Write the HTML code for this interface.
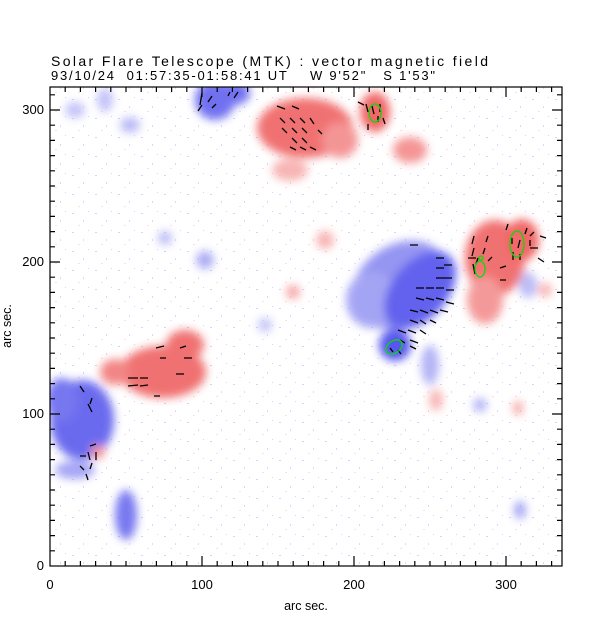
<!DOCTYPE html>
<html><head><meta charset="utf-8"><style>
html,body{margin:0;padding:0;background:#fff;}
svg{display:block;font-family:"Liberation Sans",sans-serif;}
text{white-space:pre;}
</style></head><body>
<svg width="612" height="617" viewBox="0 0 612 617" xmlns="http://www.w3.org/2000/svg">
<defs>
<filter id="b" x="-50%" y="-50%" width="200%" height="200%"><feGaussianBlur stdDeviation="4.5"/></filter>
<pattern id="noise" width="23" height="19" patternUnits="userSpaceOnUse">
<rect x="3" y="4" width="2" height="1" fill="#c8c8ff"/><rect x="14" y="11" width="1" height="2" fill="#d0d0ff"/><rect x="9" y="16" width="2" height="1" fill="#ffd6d6"/><rect x="19" y="2" width="1" height="1" fill="#c8c8ff"/>
</pattern>
<clipPath id="c"><rect x="50" y="87" width="512" height="479"/></clipPath>
</defs>
<rect width="612" height="617" fill="#fff"/>
<rect x="50" y="87" width="512" height="479" fill="url(#noise)" opacity="0.8"/>
<g clip-path="url(#c)">
<g filter="url(#b)" opacity="0.95">
<!-- blue -->
<ellipse cx="215" cy="100" rx="20" ry="20" fill="#6a6af0"/>
<ellipse cx="235" cy="93" rx="15" ry="12" fill="#6a6af0"/>
<ellipse cx="130" cy="125" rx="10" ry="8" fill="#b8b8f6"/>
<ellipse cx="75" cy="110" rx="10" ry="8" fill="#c0c0f8"/>
<ellipse cx="105" cy="100" rx="8" ry="12" fill="#c0c0f8"/>
<ellipse cx="205" cy="260" rx="9" ry="9" fill="#a8a8f4"/>
<ellipse cx="165" cy="238" rx="7" ry="7" fill="#b8b8f6"/>
<ellipse cx="400" cy="285" rx="52" ry="40" fill="#9090f2" transform="rotate(-35 400 285)"/>
<ellipse cx="372" cy="300" rx="26" ry="28" fill="#a0a0f4"/>
<ellipse cx="420" cy="290" rx="28" ry="45" fill="#5a5aee" transform="rotate(40 420 290)"/>
<ellipse cx="395" cy="345" rx="16" ry="16" fill="#5050ec"/>
<ellipse cx="430" cy="365" rx="9" ry="20" fill="#b0b0f6"/>
<ellipse cx="82" cy="420" rx="32" ry="40" fill="#6464ee"/>
<ellipse cx="62" cy="400" rx="16" ry="22" fill="#7070f0"/>
<ellipse cx="75" cy="470" rx="20" ry="9" fill="#a0a0f4"/>
<ellipse cx="126" cy="515" rx="11" ry="25" fill="#7272f0"/>
<ellipse cx="520" cy="510" rx="6" ry="9" fill="#a0a0f4"/>
<ellipse cx="480" cy="405" rx="7" ry="7" fill="#b0b0f6"/>
<ellipse cx="528" cy="285" rx="9" ry="13" fill="#b8b8f6"/>
<ellipse cx="265" cy="325" rx="7" ry="7" fill="#c0c0f8"/>
<!-- red -->
<ellipse cx="305" cy="128" rx="48" ry="30" fill="#f06a6a"/>
<ellipse cx="340" cy="140" rx="18" ry="18" fill="#f49090"/>
<ellipse cx="375" cy="112" rx="15" ry="20" fill="#f06060"/>
<ellipse cx="410" cy="150" rx="17" ry="13" fill="#f49090"/>
<ellipse cx="290" cy="170" rx="18" ry="11" fill="#f8b0b0"/>
<ellipse cx="495" cy="258" rx="30" ry="38" fill="#f06a6a"/>
<ellipse cx="485" cy="300" rx="18" ry="24" fill="#f49494"/>
<ellipse cx="522" cy="240" rx="17" ry="21" fill="#f06060"/>
<ellipse cx="163" cy="372" rx="43" ry="26" fill="#f06a6a"/>
<ellipse cx="185" cy="345" rx="19" ry="15" fill="#f06a6a"/>
<ellipse cx="115" cy="372" rx="15" ry="13" fill="#f28080"/>
<ellipse cx="98" cy="452" rx="7" ry="7" fill="#f49090"/>
<ellipse cx="325" cy="240" rx="9" ry="9" fill="#f8b0b0"/>
<ellipse cx="293" cy="292" rx="7" ry="7" fill="#f6a0a0"/>
<ellipse cx="545" cy="290" rx="7" ry="7" fill="#f8b0b0"/>
<ellipse cx="518" cy="408" rx="5" ry="7" fill="#f6a0a0"/>
<ellipse cx="436" cy="400" rx="7" ry="11" fill="#f8b4b4"/>
</g>
</g>
<!-- vectors -->
<g stroke="#000" stroke-width="1.3" fill="none">
<path d="M277 106l8 3M292 106l7 3M280 118l5 5M290 118l5 5M300 118l5 5M310 118l4 6M282 128l5 5M292 128l5 5M302 128l5 5M318 130l4 4M292 138l5 5M302 138l5 5M290 147l6 3M300 147l6 3M310 147l6 3"/>
<path d="M202 93l-2 12M212 96l-4 6M202 105l-4 6M216 104l-4 4M230 92l-2 4M238 92l-4 6"/>
<path d="M358 102l6 3M366 104l2 8M372 106l2 8M380 104l0 8M378 116l0 6M383 118l2 6M368 124l0 6"/>
<path d="M410 245l8 0M436 258l8 0M436 268l8 0M444 265l8 0M436 278l8 0M444 278l8 0M416 288l8 0M426 288l8 0M436 288l8 0M446 290l8 0M416 298l8 2M426 298l8 2M436 298l8 2M446 302l8 2M410 310l8 2M420 310l8 3M430 310l8 3M440 310l8 2M410 320l8 3M420 320l6 4M430 320l6 3M398 330l8 3M408 330l8 3M420 330l6 4M400 340l5 3M410 340l8 3M390 348l3 4M398 350l3 4M410 346l6 3"/>
<path d="M474 236l-2 8M488 236l-2 6M474 248l-2 8M485 248l-2 6M468 258l8 0M478 258l-2 6M492 257l-4 4M473 264l2 10M500 268l6 -2M500 280l6 0M527 228l-2 6M534 232l-4 4M512 238l0 6M520 240l-2 8M530 240l0 6M513 252l0 8M520 254l0 6M530 248l8 0M540 236l6 2M538 258l6 4M508 224l-2 6"/>
<path d="M156 348l8 -2M160 358l6 0M128 378l10 0M140 378l8 0M128 386l10 -1M140 386l8 -1M154 396l6 0M180 348l6 -2M184 358l8 0M176 374l8 0"/>
<path d="M80 386l4 6M92 398l-2 6M88 404l4 8M90 446l6 -2M88 452l2 8M96 452l0 8M80 456l6 0M80 466l4 4M92 463l-2 6M86 474l2 6"/>
</g>
<g stroke="#00e000" stroke-width="1.2" fill="none">
<ellipse cx="375" cy="113" rx="6" ry="9"/>
<ellipse cx="394" cy="347" rx="9" ry="6" transform="rotate(-35 394 347)"/>
<ellipse cx="480" cy="269" rx="5" ry="8"/>
<ellipse cx="481" cy="258" rx="2" ry="2"/>
<ellipse cx="517" cy="244" rx="7" ry="13"/>
</g>
<!-- axes -->
<g stroke="#000" stroke-width="1.2" fill="none">
<rect x="50" y="87" width="512" height="479"/>
<path id="xt" d="M65.2 566v-5M80.4 566v-5M95.6 566v-5M110.8 566v-5M126 566v-5M141.2 566v-5M156.4 566v-5M171.6 566v-5M186.8 566v-5M202 566v-10M217.2 566v-5M232.4 566v-5M247.6 566v-5M262.8 566v-5M278 566v-5M293.2 566v-5M308.4 566v-5M323.6 566v-5M338.8 566v-5M354 566v-10M369.2 566v-5M384.4 566v-5M399.6 566v-5M414.8 566v-5M430 566v-5M445.2 566v-5M460.4 566v-5M475.6 566v-5M490.8 566v-5M506 566v-10M521.2 566v-5M536.4 566v-5M551.6 566v-5"/>
<use href="#xt" transform="translate(0 653) scale(1 -1)"/>
<path id="yt" d="M50 550.8h5M50 535.6h5M50 520.4h5M50 505.2h5M50 490h5M50 474.8h5M50 459.6h5M50 444.4h5M50 429.2h5M50 414h10M50 398.8h5M50 383.6h5M50 368.4h5M50 353.2h5M50 338h5M50 322.8h5M50 307.6h5M50 292.4h5M50 277.2h5M50 262h10M50 246.8h5M50 231.6h5M50 216.4h5M50 201.2h5M50 186h5M50 170.8h5M50 155.6h5M50 140.4h5M50 125.2h5M50 110h10M50 94.8h5"/>
<use href="#yt" transform="translate(612 0) scale(-1 1)"/>
</g>
<g font-size="14" fill="#000">
<text x="51" y="66" textLength="437" lengthAdjust="spacing">Solar Flare Telescope (MTK) : vector magnetic field</text>
<text x="51" y="80" font-size="13" textLength="384" lengthAdjust="spacing">93/10/24  01:57:35-01:58:41 UT    W 9'52"   S 1'53"</text>
<g font-size="13">
<text x="50" y="589" text-anchor="middle">0</text>
<text x="202" y="589" text-anchor="middle">100</text>
<text x="354" y="589" text-anchor="middle">200</text>
<text x="506" y="589" text-anchor="middle">300</text>
<text x="44" y="570" text-anchor="end">0</text>
<text x="44" y="418" text-anchor="end">100</text>
<text x="44" y="266" text-anchor="end">200</text>
<text x="44" y="114" text-anchor="end">300</text>
<text x="306" y="610" text-anchor="middle" font-size="12.5">arc sec.</text>
<text transform="translate(11 326) rotate(-90)" text-anchor="middle" font-size="12.5">arc sec.</text>
</g>
</g>
</svg>
</body></html>
